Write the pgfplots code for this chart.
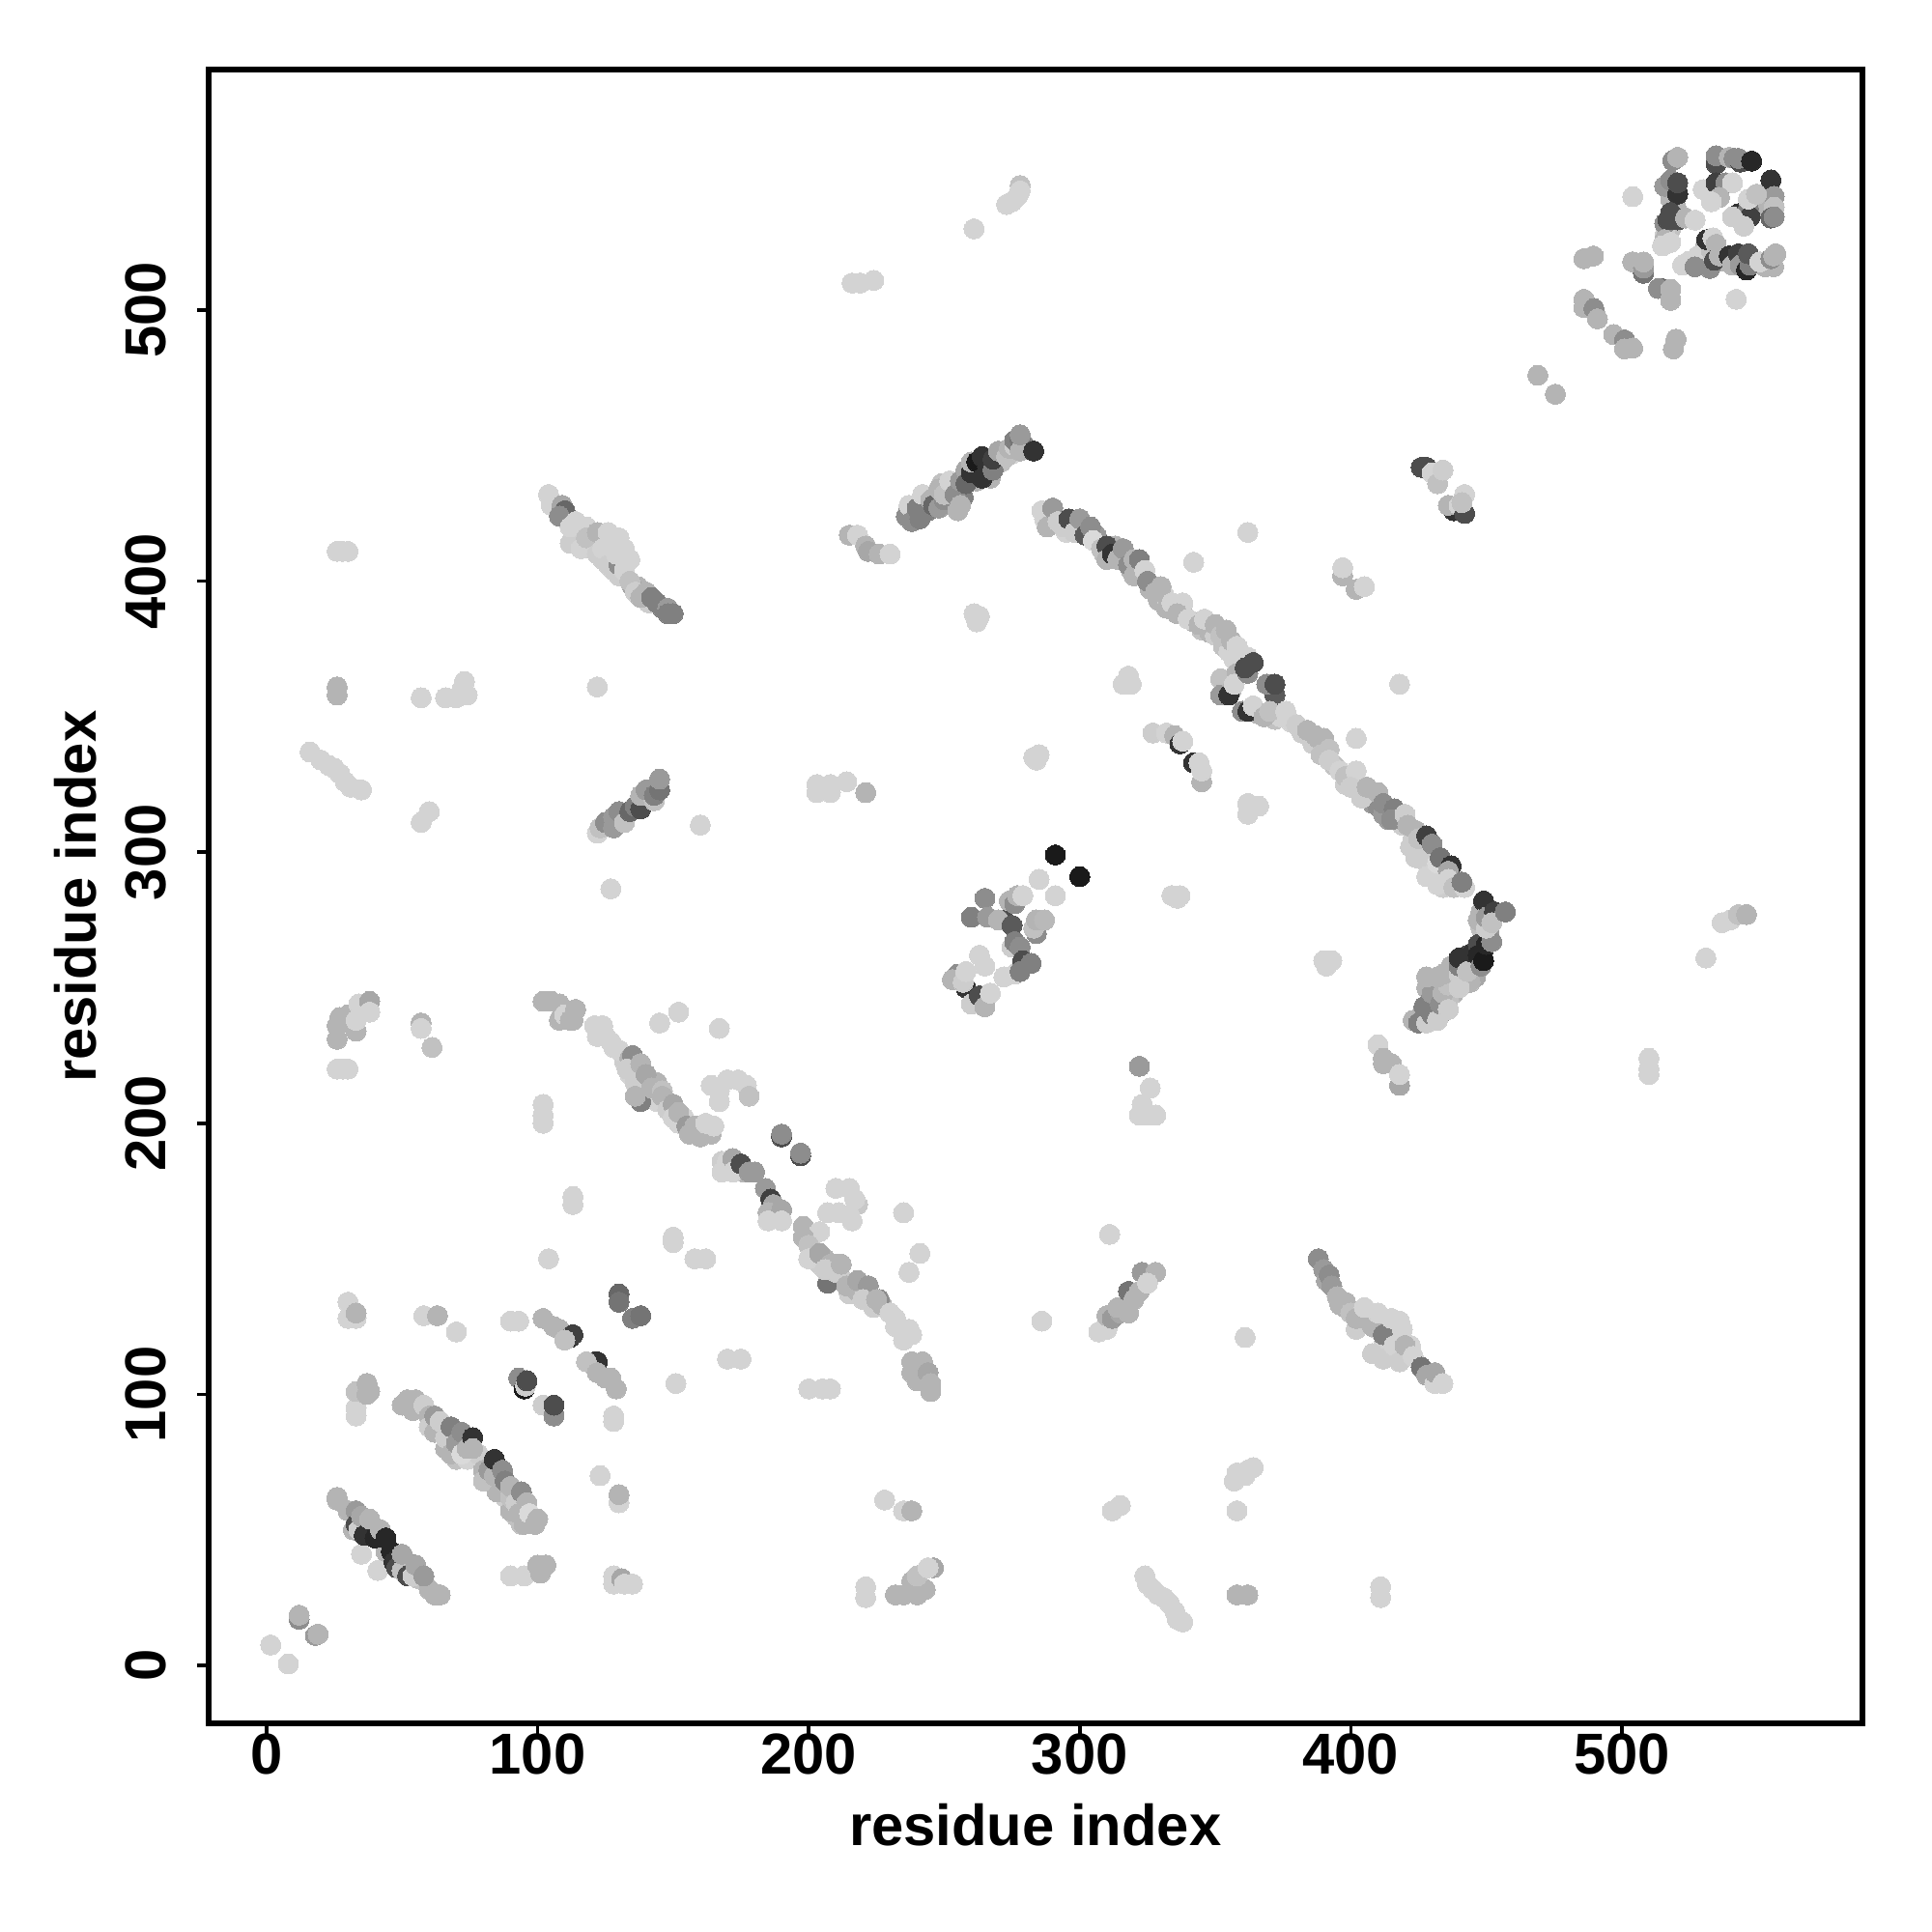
\documentclass[border=0pt]{standalone}
\usepackage{fontspec}
\setmainfont{Liberation Sans}
\usepackage{pgfplots}
\pgfplotsset{compat=1.18}
\begin{document}
\begin{tikzpicture}[x=1mm,y=1mm]
\path[use as bounding box] (0,0) rectangle (200,200);
\begin{axis}[
 at={(21.6mm,21.6mm)},anchor=south west,
 width=171.15mm,height=171.15mm,scale only axis,
 xmin=-21.4,xmax=588.6,ymin=-21.4,ymax=588.6,
 axis line style={line width=0.6mm,black},
 tick align=outside,xtick pos=bottom,ytick pos=left,
 major tick length=1.15mm,tick style={line width=0.35mm,black},
 xtick={0,100,200,300,400,500},ytick={0,100,200,300,400,500},
 /pgf/number format/assume math mode=true,
 tick label style={font=\bfseries\fontsize{17}{20}\selectfont},
 yticklabel style={rotate=90,anchor=south,yshift=2.0mm},
 xticklabel style={anchor=north,yshift=1.3mm},
 xlabel={residue index},ylabel={residue index},
 label style={font=\bfseries\fontsize{17}{20}\selectfont},
 xlabel style={at={(axis description cs:0.5,0)},anchor=center,yshift=-10.5mm},
 ylabel style={at={(axis description cs:0,0.5)},anchor=center,yshift=13.8mm},
 colormap={bw}{gray(0cm)=(0);gray(1cm)=(1)},
 point meta min=0,point meta max=1,
]
\addplot[scatter,only marks,mark=*,mark size=1.04mm,point meta=explicit,
 scatter/use mapped color={draw=mapped color,fill=mapped color},mark options={line width=0pt}] coordinates {
(428,250)[.7](431,250)[.55](435,252)[.6](438,248)[.7](436,246)[.75](433,240)[.6](426,240)[.6](429,245)[.55](441,252)[.75](444,258)[.8](446,254)[.65](443,262)[.3](449,264)[.2](444,252)[.7](448,272)[.75](448,278)[.7](451,270)[.6]
(240,424)[.55](243,428)[.7](247,430)[.7](249,436)[.75](252,431)[.65](254,428)[.7](253,435)[.75](257,431)[.5](259,438)[.7](262,437)[.7](263,441)[.3](267,438)[.7](265,445)[.1](262,441)[.8](271,444)[.75](275,447)[.82](279,451)[.55]
(287,423)[.82](291,424)[.82](295,418)[.82](299,421)[.7](303,420)[.8](306,417)[.6](309,410)[.75](313,413)[.7](315,409)[.7](317,409)[.7](319,404)[.7](322,404)[.75](326,397)[.7](329,393)[.7](331,395)[.82](336,390)[.8](338,388)[.7](342,385)[.7](345,382)[.75](348,381)[.7](350,380)[.8](353,376)[.75](355,374)[.82](357,371)[.82](359,374)[.82](362,372)[.82]
(366,351)[.7](372,349)[.75](374,350)[.82](378,348)[.82](382,344)[.8](386,340)[.8](387,343)[.7](390,339)[.75](394,332)[.75](398,325)[.8](402,326)[.82](405,322)[.7](408,318)[.6](410,317)[.55](412,314)[.6](414,312)[.6](417,313)[.7](419,310)[.8](423,305)[.8](426,303)[.82](424,298)[.8](428,296)[.8](430,292)[.82](434,294)[.82](434,287)[.8](428,291)[.82]
(112,241)[.7](124,234)[.82](128,228)[.82](132,223)[.8](134,218)[.82](138,216)[.8](140,212)[.8](144,215)[.7](144,208)[.82](148,208)[.82](150,205)[.7](152,200)[.82](154,202)[.82](158,197)[.82](160,195)[.7](162,197)[.7](170,184)[.82](174,184)[.7](176,182)[.7](180,182)[.6](186,168)[.7](188,165)[.82](200,158)[.7](202,153)[.8](204,148)[.8](206,150)[.7](210,148)[.7](212,143)[.8](216,140)[.75](215,137)[.8](218,138)[.7](220,138)[.7](224,132)[.8](227,133)[.7](232,128)[.82](237,124)[.82](240,110)[.82](240,108)[.7](244,105)[.7]
(398,132)[.7](402,124)[.8](405,128)[.7](410,124)[.82](412,118)[.82](414,124)[.82](415,114)[.82](417,122)[.82](420,114)[.8](422,118)[.82]
(115,415)[.82](120,412)[.8](124,408)[.8](128,415)[.82](130,402)[.8](134,408)[.82](127,409)[.82](118,420)[.82](112,414)[.8](137,398)[.7](141,392)[.8]
(63,89)[.8](70,76)[.75](66,80)[.7](74,76)[.82](78,78)[.8](80,72)[.7](85,64)[.7](88,62)[.8](92,55)[.75](94,52)[.75](90,57)[.7]
(32,50)[.7](36,51)[.6](40,50)[.7](44,42)[.7](48,40)[.5](52,38)[.6](56,32)[.75]
(518,541)[.7](518,530)[.75](520,538)[.7](516,528)[.8](531,524)[.7](528,520)[.82](533,522)[.75](537,518)[.7](542,518)[.75](553,516)[.7](556,516)[.7](553,543)[.7](553,538)[.7]
(1.5,7.5)[.82](8,0.5)[.82](12,17)[.55](12,18.5)[.7](18,11)[.6](19,11.5)[.7]
(35,41)[.82](41,35)[.82]
(26,62)[.7](26,61)[.7](30,57)[.7](33,57)[.6](33,52)[.3](34,50)[.8](35,55)[.65](36,48)[.2](38,54)[.7](40,47)[.15](42,50)[.7](44,47)[.15](46,42)[.15](47,38)[.2](48,36)[.3](50,35)[.75](50,41)[.65](52,33)[.3](54,33)[.8](55,37)[.65](60,28)[.7](58,33)[.6](62,26)[.7](64,26)[.7]
(50,96)[.7](52,98)[.7](54,94)[.7](55,98)[.7](58,96)[.8](60,92)[.7](60,88)[.8](62,86)[.7](62,92)[.6](64,90)[.8](66,84)[.8](68,88)[.5](68,78)[.7](70,82)[.6](72,86)[.55](72,78)[.85](74,80)[.7](76,84)[.2](76,80)[.7]
(80,68)[.75](82,72)[.6](84,70)[.7](84,76)[.2](86,64)[.7](87,72)[.55](88,68)[.5](90,62)[.75](90,66)[.7](92,60)[.8](93,56)[.7](94,64)[.55](95,52)[.7](96,60)[.7](97,56)[.85](99,52)[.7](100,54)[.7]
(90,33)[.82](95,33)[.82](100,37)[.7](101,34)[.7](103,37)[.7]
(70,123)[.82](58,129)[.82](63,129)[.7]
(30,134)[.82](30,128)[.82](33,128)[.82](33,130)[.7]
(33,92)[.82](33,95)[.82](33,101)[.75](37,100)[.7](37,104)[.7](38,101)[.7]
(90,127)[.82](93,127)[.82]
(102,128)[.7](106,125)[.7](108,124)[.7](112,121)[.2](113,122)[.25](110,120)[.75](121,112)[.25](122,112)[.2](118,112)[.75](122,108)[.7](125,106)[.7](127,106)[.7](129,102)[.7]
(93,106)[.55](95,102)[.1](95.5,103)[.8](96,105)[.3](102,96)[.8](106,92)[.55](106,96)[.3]
(130,137)[.4](130,134)[.45](135,128)[.5](138,129)[.45]
(128,92)[.82](128,90)[.82](123,70)[.82](130,60)[.82](130,63)[.7]
(128,33)[.82](128,30)[.82](131,32)[.65](132,30)[.82](135,30)[.82]
(104,150)[.82](113,173)[.82](113,170)[.82]
(102,245)[.7](105,245)[.7](108,244)[.7](110,242)[.7](108,238)[.7](110,240)[.82](112,238)[.7](114,242)[.7](113,238)[.7]
(121,236)[.82](122,232)[.82](124,236)[.82](125,232)[.82](127,230)[.82](130,227)[.82](134,224)[.7](135,225)[.55](133,220)[.8](136,215)[.8](138,222)[.7](138,208)[.5](136,210)[.7](140,218)[.65](142,213)[.7](146,212)[.75](146,210)[.7](148,205)[.8](150,207)[.65](150,202)[.82](152,204)[.7](155,199)[.6](158,199)[.7](160,197)[.7](156,196)[.7](164,196)[.7](162,200)[.82](165,199)[.82]
(168,186)[.8](168,182)[.82](170,186)[.82](172,187)[.65](172,182)[.82](175,185)[.3](178,182)[.6]
(184,176)[.6](186,172)[.25](187,170)[.65](185,167)[.7](190,168)[.65](185,164)[.82](190,164)[.82]
(198,162)[.7](204,160)[.82](198,158)[.7](200,155)[.75](200,150)[.82](204,152)[.65](207,141)[.45](208,148)[.7](210,145)[.8](206,146)[.8](212,148)[.7]
(214,140)[.7](218,142)[.65](222,140)[.6](220,135)[.8](226,135)[.55](225,135)[.7]
(230,130)[.82](232,125)[.82](236,122)[.82](235,120)[.82](238,122)[.82]
(238,112)[.7](242,112)[.7](240,105)[.7](238,108)[.7](244,108)[.65](245,104)[.7](245,101)[.7]
(190,195)[.3](190,196)[.55](197,188)[.3](197,189)[.55]
(164,214)[.82](167,208)[.82](167,212)[.82](170,216)[.82](174,216)[.82](177,214)[.82](178,210)[.75]
(167,235)[.82](152,241)[.82](145,237)[.82]
(102,207)[.82](102,203)[.82](102,200)[.82]
(150,158)[.82](150,156)[.82](158,150)[.82](162,150)[.82](151,104)[.82]
(170,113)[.82](175,113)[.82](200,102)[.82](205,102)[.82](208,102)[.82]
(210,176)[.82](215,176)[.82](218,170)[.78](217,172)[.82](207,167)[.82](211,167)[.82](216,164)[.82](215,166)[.82]
(235,167)[.82](241,152)[.82](237,145)[.82](228,61)[.82](235,57)[.82](238,57)[.7]
(221,29)[.82](221,25)[.82]
(232,26)[.7](235,26)[.7](240,26)[.7](243,28)[.7](238,31)[.7](240,33)[.75](246,36)[.65](244,36)[.82]
(286,127)[.82]
(307,123)[.82](310,124)[.82](310,129)[.7](312,128)[.6](315,130)[.65](314,132)[.7](318,138)[.45](318,130)[.7](320,135)[.7](323,145)[.6](328,145)[.7](322,138)[.7](325,141)[.82]
(311,159)[.82](312,57)[.82](315,59)[.82]
(324,33)[.82](325,30)[.82](327,28)[.82](329,26)[.82](331,25)[.82](333,23)[.82](335,20)[.82](336,17)[.82](338,16)[.82]
(358,57)[.82](357,68)[.82](358,71)[.82](361,70)[.82](362,72)[.82](364,73)[.82]
(358,26)[.7](362,26)[.7](361,121)[.82](411,29)[.82](411,25)[.82]
(388,150)[.55](390,146)[.6](391,142)[.65](392,144)[.55](393,140)[.6](395,136)[.7](396,133)[.7](398,134)[.7](400,130)[.75](402,128)[.7](408,115)[.8](412,113)[.8](405,132)[.82](408,125)[.7](412,122)[.5](410,130)[.82](415,128)[.82](416,118)[.82](418,112)[.8](418,127)[.82](419,124)[.82](420,118)[.7](423,114)[.82](426,110)[.45](428,107)[.65](431,104)[.82](431,108)[.65](434,104)[.82]
(410,229)[.82](412,222)[.7](412,224)[.7](415,222)[.7](418,214)[.65](418,218)[.82]
(322,221)[.6](326,213)[.82](323,207)[.82](322,203)[.82](325,203)[.82](328,203)[.82]
(510,224)[.82](510,220)[.82](510,218)[.82](531,261)[.82](537,274)[.82](540,275)[.82](543,277)[.75](546,277)[.7]
(390,260)[.82](393,260)[.82](391,258)[.82]
(423,238)[.7](425,237)[.5](428,237)[.8](427,243)[.5](430,240)[.5](430,248)[.6](432,238)[.8](433,244)[.55](434,248)[.7](436,242)[.8](436,251)[.75](428,254)[.7](432,254)[.7](434,255)[.7](437,258)[.7](440,250)[.8](440,255)[.8](440,258)[.5](440,261)[.2](443,256)[.75](445,263)[.2](447,266)[.3](447,262)[.15](448,258)[.55](449,260)[.1](450,266)[.15](452,267)[.55]
(449,282)[.2](447,275)[.7](450,272)[.8](450,276)[.6](453,278)[.25](452,274)[.75](457,278)[.5]
(255,255)[.55](253,253)[.7](258,250)[.2](257,252)[.8](258,256)[.82](260,244)[.8](263,247)[.3](265,243)[.7](267,248)[.82](272,254)[.82](276,255)[.82](263,262)[.82](265,258)[.82]
(260,276)[.5](265,283)[.55](266,276)[.6](272,275)[.3](270,275)[.7](275,273)[.35]
(275,265)[.8](276,267)[.5](278,265)[.55](279,260)[.3](278,256)[.5](282,259)[.5]
(274,282)[.7](276,281)[.55](277,284)[.7](279,284)[.82]
(284,270)[.55](283,272)[.75](284,275)[.7](287,275)[.72](285,290)[.82](291,299)[.1](300,291)[.1](291,284)[.82]
(104,432)[.82](105,428)[.82](109,428)[.65](110,426)[.4](108,424)[.55](112,420)[.82](114,422)[.82](116,412)[.82](118,416)[.75](122,418)[.7](122,410)[.8](124,412)[.82](126,418)[.82](126,406)[.8](128,404)[.8](130,406)[.55](129,410)[.82](130,416)[.82](132,412)[.82](132,408)[.82](132,404)[.82](135,398)[.65](134,400)[.75](136,396)[.8](138,394)[.7](140,396)[.7](142,394)[.5](144,392)[.5](146,390)[.5](148,390)[.6](148,388)[.5](150,388)[.5]
(26,411)[.82](28,411)[.82](30,411)[.82](26,361)[.7](26,358)[.7](57,357)[.82](66,357)[.82](70,357)[.82](72,360)[.82](73,363)[.82](74,358)[.82]
(16,337)[.82](20,334)[.82](23,332)[.82](25,331)[.82](27,329)[.82](29,326)[.82](31,324)[.82](35,323)[.82]
(57,311)[.82](60,315)[.82](122,361)[.82](127,286.5)[.82](160,310)[.82]
(26,231)[.7](26,236)[.7](27,239)[.7](30,240)[.7](33,234)[.7](33,238)[.82](34,244)[.82](37,243)[.82](38,245)[.65](38,241)[.82]
(26,220)[.82](28,220)[.82](30,220)[.82](57,237)[.7](57,235)[.82](61,228)[.75]
(122,307)[.82](123,309)[.75](125,311)[.55](128,309)[.6](128,313)[.6](130,315)[.55](132,311)[.75](134,315)[.4](136,317)[.5](138,316)[.3](138,321)[.7](140,323)[.6](143,319)[.75](143,321)[.5](145,323)[.45](145,327)[.6]
(203,325)[.82](203,322)[.82](208,325)[.82](208,322)[.82](214,326)[.82](221,322)[.7]
(215,417)[.7](218,417)[.82](221,413)[.7](222,411)[.65](226,410)[.7](230,410)[.82]
(216,510)[.82](219,510)[.82](224,511)[.82](261,530)[.82](273,539)[.82](275,540)[.82](278,546)[.75](277,542)[.82](278,544)[.82]
(261,388)[.82](263,387)[.82](262,385)[.82](283,335)[.82](285,336)[.82](284,334)[.82](334,284)[.82](336,283)[.82](337,284)[.82]
(342,407)[.82](362,418)[.82]
(327,344)[.8](332,344)[.82](335,343)[.7](337,340)[.2](338,341)[.82](342,333)[.2](344,333)[.82](345,326)[.7](345,330)[.82]
(316,362)[.82](318,362)[.82](318,365)[.82](319,362)[.82](362,314)[.82](362,318)[.82](366,317)[.82]
(397,402)[.7](397,405)[.82](402,397)[.7](405,398)[.82](418,362)[.82](402,342)[.82]
(286,426)[.82](288,420)[.7](290,427)[.6](292,422)[.8](294,420)[.8](296,423)[.3](298,418)[.8](300,423)[.6](302,417)[.35](304,420)[.55](305,415)[.85](308,412)[.75](310,413)[.3](310,408)[.7](312,410)[.2](314,408)[.7](316,412)[.6](318,406)[.55](320,402)[.7](320,408)[.7](322,408)[.5](324,404)[.82](325,400)[.55](328,396)[.7](330,398)[.7](332,390)[.7](334,392)[.82](338,392)[.82](336,388)[.7]
(340,386)[.82](344,384)[.7](346,386)[.82](350,384)[.7](352,380)[.75](354,382)[.7](356,378)[.7](358,376)[.82](360,372)[.82]
(354,362)[.7](352,364)[.75](352,358)[.6](356,360)[.7](355,358)[.2](358,366)[.7](357,362)[.82]
(362,366)[.55](361,368)[.3](364,370)[.3](372,358)[.35](369,362)[.55](372,362)[.3]
(360,352)[.55](362,352)[.2](364,354)[.82](368,350)[.7](370,352)[.75](376,352)[.82](380,347)[.8](384,345)[.7](388,342)[.7](390,342)[.7](389,336)[.75](392,338)[.75](392,334)[.8]
(396,330)[.82](398,328)[.75](402,330)[.82](400,324)[.8](404,320)[.8](406,324)[.7](410,322)[.7](412,318)[.55](416,316)[.5](415,312)[.55](420,314)[.8](421,310)[.7](424,308)[.7](422,302)[.8](425,305)[.75](428,306)[.25](430,303)[.55](432,296)[.85](433,298)[.45](437,295)[.2](436,293)[.65]
(432,288)[.82](436,290)[.82](438,287)[.75](442,287)[.82](441,289)[.5]
(236,424)[.55](237,428)[.82](238,422)[.55](240,427)[.5](241,423)[.5](242,432)[.82](244,426)[.5](245,430)[.7](246,428)[.4](248,427)[.6](248,434)[.7](250,430)[.55](250,432)[.75](252,437)[.82](254,432)[.55](255,426)[.7](256,428)[.7](256,437)[.6](258,441)[.65](258,436)[.4](260,440)[.2](260,444)[.7](262,444)[.1](264,438)[.2](264,446)[.2](266,442)[.2](268,441)[.5](268,445)[.25](270,448)[.65]
(273,446)[.75](274,449)[.7](276,450)[.8](276,452)[.5](278,452)[.45](278,448)[.7](278,454)[.6](283,448)[.2]
(426,442)[.3](428,442)[.3](430,440)[.82](433,440)[.82](432,436)[.75](434,441)[.8](438,426)[.2](436,428)[.7](440,428)[.82](442,425)[.3](442,432)[.82](441,429)[.75]
(469,476)[.7](475.5,469)[.7]
(518.8,555.2)[.55](520.6,556.4)[.7](534.8,554)[.3](534.8,557)[.55](539.6,556.4)[.7](541.4,556)[.55](543.7,554.6)[.3](543,556)[.55](547.9,555)[.15]
(555,548)[.2](556.2,542)[.6](556.2,538)[.75](555,534)[.4](556.2,534.4)[.55]
(515.8,545.7)[.6](518,548)[.55](520.6,542.8)[.2](520.6,547)[.3]
(530,544.5)[.82](534.8,547)[.25](538.4,547)[.55](540.8,547)[.82](536,541.6)[.7](533,540)[.82]
(543,535.6)[.2](546.7,537.4)[.5](547.3,534.4)[.25](546.7,541)[.82](549.7,542.8)[.75](540.8,534.4)[.8](545,531)[.8]
(515.8,532)[.55](517,533.3)[.3](518,536)[.3](520.6,533.3)[.3](523.5,534)[.7](527,533.2)[.82]
(515.8,526)[.7](515,523.7)[.82](518,525)[.82]
(522.4,516.6)[.82](524.7,518)[.82](527,516)[.55]
(531.3,526)[.2](533.6,526.7)[.82](534.8,524.3)[.7](532.5,515.4)[.55](534.2,518.4)[.3](536,520)[.7]
(539.6,520)[.2](540.8,516.6)[.7](543,520.8)[.25](543.7,516.6)[.6](546,514.8)[.15](547.3,516.6)[.5](546.7,520.8)[.35](550.9,517.8)[.82](555,519)[.55](556.8,520.8)[.7](556,520)[.7]
(504,541.9)[.82](486,519)[.7](489.5,520)[.7]
(504,517.8)[.7](508,513.6)[.45](508,515.5)[.6](508,517.8)[.7]
(514.6,508)[.4](513.5,508)[.55](518,503.6)[.7](518,507.7)[.7](542.2,504)[.82]
(486,504)[.7](486,501)[.7](489.7,500.6)[.55](491,496.8)[.7]
(497,491)[.7](501,489)[.55](501,485.7)[.7](504,486)[.7](520,489.3)[.7](519,485.7)[.7]
};
\end{axis}
\end{tikzpicture}
\end{document}
